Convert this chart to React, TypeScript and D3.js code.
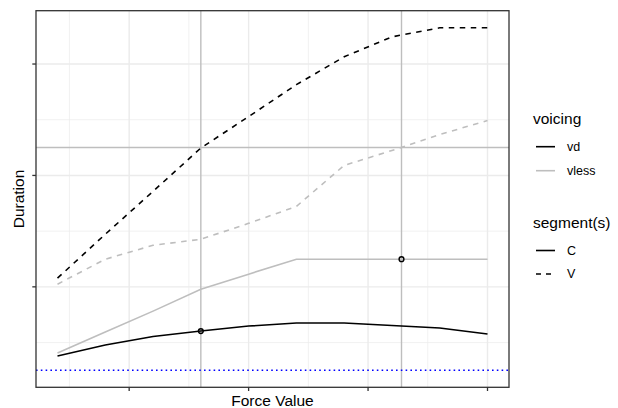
import React from "react";
import * as d3 from "d3";

const forceValues = [1, 2, 3, 4, 5, 6, 7, 8, 9, 10];
const vdC = [38.0, 47.8, 55.4, 60.3, 64.8, 67.5, 67.5, 65.3, 63.0, 57.7];
const vlessC = [40.6, 59.4, 78.2, 97.9, 111.4, 124.8, 124.8, 124.8, 124.8, 124.8];
const vdV = [107.8, 147.2, 185.7, 224.6, 252.8, 281.5, 306.5, 324.4, 332.5, 332.5];
const vlessV = [102.4, 124.8, 137.3, 142.7, 157.0, 172.2, 209.0, 222.4, 236.7, 249.3];

const refH = [225.1];
const refV = [4, 8.2];
const baselineY = [25.2];
const markX = [4, 8.2];
const markY = [60.3, 124.8];

const xMajor = [2.5, 5, 7.5, 10];
const xMinor = [1.25, 3.75, 6.25, 8.75];
const yMajor = [100, 200, 300];
const yMinor = [50, 150, 250];

const voicingLevels = ["vd", "vless"];
const segmentLevels = ["C", "V"];

const W = 618, H = 408;
const panel = { left: 36, right: 509, top: 10.7, bottom: 387.3 };
const FONT = "'Liberation Sans', Arial, Helvetica, sans-serif";
const GRAY = "#BEBEBE";

export default function App() {
  const xMin = d3.min(forceValues)!, xMax = d3.max(forceValues)!;
  const xPad = (xMax - xMin) * 0.05;
  const x = d3.scaleLinear().domain([xMin - xPad, xMax + xPad]).range([panel.left, panel.right]);

  const allY = [...vdC, ...vlessC, ...vdV, ...vlessV, ...refH, ...baselineY];
  const yMin = d3.min(allY)!, yMax = d3.max(allY)!;
  const yPad = (yMax - yMin) * 0.05;
  const y = d3.scaleLinear().domain([yMin - yPad, yMax + yPad]).range([panel.bottom, panel.top]);

  const line = d3.line<number>().x((_, i) => x(forceValues[i])).y((d) => y(d));

  const series = [
    { vals: vlessC, color: GRAY, dash: null },
    { vals: vlessV, color: GRAY, dash: "5.5,5.5" },
    { vals: vdC, color: "#000000", dash: null },
    { vals: vdV, color: "#000000", dash: "5.5,5.5" },
  ];

  const lw = 1.6;
  return (
    <svg width={W} height={H} style={{ position: "absolute", left: 0, top: 0, background: "#fff" }} fontFamily={FONT}>
      <rect x={0} y={0} width={W} height={H} fill="#fff" />
      {/* grid */}
      {xMinor.map((v) => (
        <line key={"xm" + v} x1={x(v)} x2={x(v)} y1={panel.top} y2={panel.bottom} stroke="#EBEBEB" strokeWidth={0.7} />
      ))}
      {yMinor.map((v) => (
        <line key={"ym" + v} y1={y(v)} y2={y(v)} x1={panel.left} x2={panel.right} stroke="#EBEBEB" strokeWidth={0.7} />
      ))}
      {xMajor.map((v) => (
        <line key={"xM" + v} x1={x(v)} x2={x(v)} y1={panel.top} y2={panel.bottom} stroke="#EBEBEB" strokeWidth={1.4} />
      ))}
      {yMajor.map((v) => (
        <line key={"yM" + v} y1={y(v)} y2={y(v)} x1={panel.left} x2={panel.right} stroke="#EBEBEB" strokeWidth={1.4} />
      ))}
      {/* reference lines */}
      {refV.map((v) => (
        <line key={"rv" + v} x1={x(v)} x2={x(v)} y1={panel.top} y2={panel.bottom} stroke={GRAY} strokeWidth={1.4} />
      ))}
      {refH.map((v) => (
        <line key={"rh" + v} y1={y(v)} y2={y(v)} x1={panel.left} x2={panel.right} stroke={GRAY} strokeWidth={1.4} />
      ))}
      {baselineY.map((v) => (
        <line key={"bl" + v} y1={y(v)} y2={y(v)} x1={panel.left} x2={panel.right} stroke="#0000FF" strokeWidth={1.6} strokeDasharray="1.6,3.2" />
      ))}
      {/* series */}
      {series.map((s, i) => (
        <path key={"s" + i} d={line(s.vals) || ""} fill="none" stroke={s.color} strokeWidth={lw} strokeDasharray={s.dash || undefined} />
      ))}
      {markX.map((v, i) => (
        <circle key={"pt" + i} cx={x(v)} cy={y(markY[i])} r={2.4} fill="none" stroke="#000" strokeWidth={1.4} />
      ))}
      {/* panel border */}
      <rect x={panel.left} y={panel.top} width={panel.right - panel.left} height={panel.bottom - panel.top} fill="none" stroke="#333333" strokeWidth={1.3} />
      {/* ticks */}
      {xMajor.map((v) => (
        <line key={"xt" + v} x1={x(v)} x2={x(v)} y1={panel.bottom} y2={panel.bottom + 3.7} stroke="#333333" strokeWidth={1.3} />
      ))}
      {yMajor.map((v) => (
        <line key={"yt" + v} y1={y(v)} y2={y(v)} x1={panel.left - 3.7} x2={panel.left} stroke="#333333" strokeWidth={1.3} />
      ))}
      {/* axis titles */}
      <text x={(panel.left + panel.right) / 2} y={405.5} textAnchor="middle" fontSize={15.5} fill="#000">Force Value</text>
      <text transform={`translate(23.5,${(panel.top + panel.bottom) / 2}) rotate(-90)`} textAnchor="middle" fontSize={15.5} fill="#000">Duration</text>
      {/* legend: voicing */}
      <text x={533} y={123.5} fontSize={15.5} fill="#000">voicing</text>
      {voicingLevels.map((lv, i) => (
        <g key={lv} transform={`translate(0,${146.7 + i * 24})`}>
          <line x1={536} x2={555} y1={0} y2={0} stroke={i === 0 ? "#000" : GRAY} strokeWidth={lw} />
          <text x={567} y={0} dy="0.35em" fontSize={12.5} fill="#000">{lv}</text>
        </g>
      ))}
      {/* legend: segment(s) */}
      <text x={533} y={228} fontSize={15.5} fill="#000">segment(s)</text>
      {segmentLevels.map((lv, i) => (
        <g key={lv} transform={`translate(0,${250.5 + i * 23.5})`}>
          <line x1={536} x2={555} y1={0} y2={0} stroke="#000" strokeWidth={lw} strokeDasharray={i === 1 ? "5,5" : undefined} />
          <text x={567} y={0} dy="0.35em" fontSize={12.5} fill="#000">{lv}</text>
        </g>
      ))}
    </svg>
  );
}
